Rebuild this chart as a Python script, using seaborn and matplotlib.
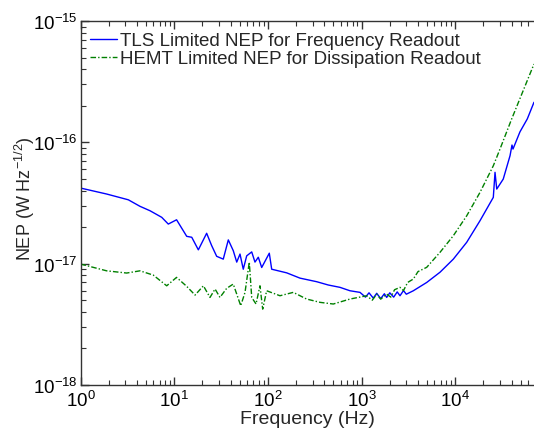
import numpy as np
import pandas as pd
import matplotlib
matplotlib.use("Agg")
import matplotlib.pyplot as plt
import seaborn as sns
from matplotlib.ticker import LogLocator, NullFormatter

# TLS limited NEP (frequency readout)
tls_freq = [1.0, 1.9, 3.24, 4.31, 5.52, 7.36, 8.65, 10.6, 13.6, 15.4, 18.1, 22.2, 25.1, 28.4,
            33.4, 37.8, 42.7, 46.5, 50.4, 54.6, 59.4, 67.2, 72.8, 79.0, 85.9, 103.5, 109.8,
            158.8, 220, 332, 441, 588, 752, 961, 1100, 1200, 1333, 1450, 1600, 1750, 1853,
            2000, 2200, 2400, 2570, 2800, 3000, 3565, 4955, 6870, 9530, 13240, 18360, 25460,
            26550, 27700, 32500, 38400, 40300, 41300, 49000, 58700, 69200]
tls_nep = [4.20e-17, 3.75e-17, 3.36e-17, 2.97e-17, 2.73e-17, 2.41e-17, 2.12e-17, 2.30e-17,
           1.68e-17, 1.65e-17, 1.30e-17, 1.78e-17, 1.41e-17, 1.15e-17, 1.09e-17, 1.57e-17,
           1.28e-17, 1.03e-17, 1.20e-17, 9.0e-18, 1.16e-17, 1.25e-17, 1.03e-17, 1.13e-17,
           9.3e-18, 1.22e-17, 9.0e-18, 8.4e-18, 7.6e-18, 7.1e-18, 6.67e-18, 6.38e-18, 5.98e-18,
           5.80e-18, 5.30e-18, 5.75e-18, 5.20e-18, 5.70e-18, 5.15e-18, 5.65e-18, 5.27e-18,
           5.75e-18, 5.30e-18, 5.85e-18, 5.44e-18, 6.0e-18, 5.6e-18, 5.98e-18, 7.0e-18, 8.5e-18,
           1.09e-17, 1.50e-17, 2.26e-17, 3.52e-17, 5.66e-17, 4.12e-17, 4.98e-17, 7.76e-17,
           9.5e-17, 8.8e-17, 1.22e-16, 1.56e-16, 2.14e-16]

# HEMT limited NEP (dissipation readout)
hemt_freq = [1.0, 1.9, 3.11, 4.31, 5.98, 8.32, 10.6, 13.6, 16.7, 20.5, 24.1, 27.3, 30.8, 36.3,
             42.7, 51.3, 57.0, 63.3, 67.2, 74.7, 82.3, 88.0, 97.0, 134.6, 186.7, 259, 360, 499,
             752, 1133, 1300, 1450, 1600, 1853, 2050, 2250, 2570, 2800, 3100, 3565, 4000, 4955,
             6870, 9530, 13240, 18360, 25460, 30000, 40000, 69200]
hemt_nep = [9.93e-18, 8.73e-18, 8.37e-18, 8.73e-18, 8.05e-18, 6.57e-18, 7.71e-18, 6.50e-18,
            5.51e-18, 6.57e-18, 5.27e-18, 6.18e-18, 5.27e-18, 6.26e-18, 6.79e-18, 4.50e-18,
            5.80e-18, 1.03e-17, 5.27e-18, 4.65e-18, 6.57e-18, 4.22e-18, 5.98e-18, 5.44e-18,
            5.80e-18, 5.11e-18, 4.80e-18, 4.65e-18, 5.11e-18, 5.44e-18, 5.0e-18, 5.6e-18,
            5.1e-18, 5.61e-18, 5.3e-18, 6.1e-18, 6.38e-18, 6.0e-18, 7.0e-18, 7.47e-18, 8.6e-18,
            9.33e-18, 1.24e-17, 1.70e-17, 2.48e-17, 3.87e-17, 6.41e-17, 8.8e-17, 1.56e-16,
            4.42e-16]

series_labels = ["TLS Limited NEP for Frequency Readout",
                 "HEMT Limited NEP for Dissipation Readout"]

df = pd.concat([
    pd.DataFrame({"f": tls_freq, "nep": tls_nep, "series": series_labels[0]}),
    pd.DataFrame({"f": hemt_freq, "nep": hemt_nep, "series": series_labels[1]}),
], ignore_index=True)

sns.set_style("ticks")
plt.rcParams['font.family'] = ['Liberation Sans', 'DejaVu Sans']
plt.rcParams['mathtext.fontset'] = 'custom'
plt.rcParams['mathtext.rm'] = 'Liberation Sans'
plt.rcParams['mathtext.it'] = 'Liberation Sans:italic'
plt.rcParams['axes.unicode_minus'] = False

fig = plt.figure(figsize=(5.34, 4.39), dpi=100)
ax = fig.add_axes([80.5 / 534, 53 / 439, (534 - 80.5) / 534, 364 / 439])

sns.lineplot(data=df[df.series == series_labels[0]], x="f", y="nep", ax=ax,
             color="#0000ff", linewidth=1.0, label=series_labels[0],
             estimator=None, sort=False)
sns.lineplot(data=df[df.series == series_labels[1]], x="f", y="nep", ax=ax,
             color="#008000", linewidth=1.0, label=series_labels[1],
             estimator=None, sort=False)
ax.lines[1].set_linestyle((0, (4, 1.5, 1, 1.5)))

ax.set_xscale("log")
ax.set_yscale("log")
ax.set_xlim(1, 69200)
ax.set_ylim(1e-18, 1e-15)

ax.xaxis.set_major_locator(LogLocator(base=10, numticks=10))
ax.yaxis.set_major_locator(LogLocator(base=10, numticks=10))
ax.xaxis.set_minor_locator(LogLocator(base=10, subs=np.arange(2, 10), numticks=20))
ax.yaxis.set_minor_locator(LogLocator(base=10, subs=np.arange(2, 10), numticks=20))
ax.xaxis.set_minor_formatter(NullFormatter())
ax.yaxis.set_minor_formatter(NullFormatter())
ax.xaxis.get_offset_text().set_visible(False)
ax.yaxis.get_offset_text().set_visible(False)

for s in ax.spines.values():
    s.set_color("#333333")
    s.set_linewidth(1.0)
ax.spines["right"].set_visible(False)

ax.tick_params(which="both", direction="in", bottom=True, left=True, top=True, right=False,
               color="#333333", labelcolor="black", labelsize=13.5)
ax.tick_params(which="major", length=6, width=1.0, pad=2)
ax.tick_params(axis="x", which="major", pad=3.5)
ax.tick_params(which="minor", length=3.5, width=0.8)

ax.set_xlabel("Frequency (Hz)", fontsize=14, labelpad=0)
ax.set_ylabel("NEP (W Hz$^{-1/2}$)", fontsize=13)
ax.yaxis.set_label_coords(-0.097, 0.515)

leg = ax.legend(loc="upper left", bbox_to_anchor=(0.005, 0.99), frameon=False,
                fontsize=13.5, handlelength=1.45, handletextpad=0.15,
                labelspacing=0.05, borderaxespad=0.0)

fig.savefig("out.png", dpi=100)
